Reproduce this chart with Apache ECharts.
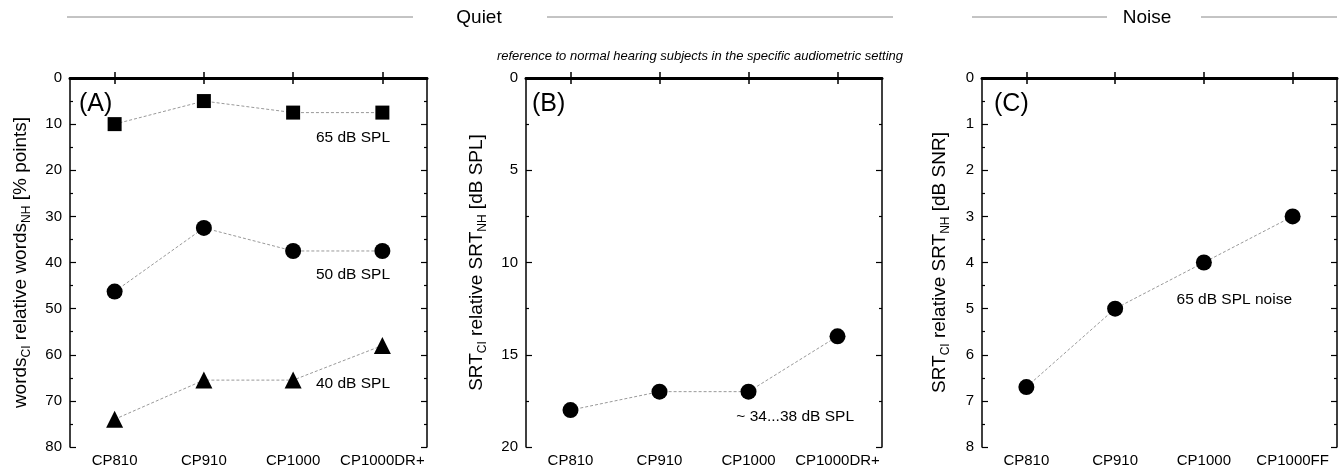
<!DOCTYPE html>
<html>
<head>
<meta charset="utf-8">
<script src="https://cdn.jsdelivr.net/npm/echarts@6/dist/echarts.min.js"></script>
<style>html,body{margin:0;padding:0;background:#fff}#c{width:1343px;height:470px}</style>
</head>
<body>
<div id="c"></div>
<script>
// ---- data ----
const catsAB = ['CP810', 'CP910', 'CP1000', 'CP1000DR+'];
const catsC = ['CP810', 'CP910', 'CP1000', 'CP1000FF'];
const words65 = [10, 5, 7.5, 7.5];
const words50 = [46.3, 32.5, 37.5, 37.5];
const words40 = [74, 65.5, 65.5, 58];
const srtQuiet = [18, 17, 17, 14];
const srtNoise = [6.7, 5, 4, 3];
const yTicksA = {min: 0, max: 80, interval: 10};
const yTicksB = {min: 0, max: 20, interval: 5};
const yTicksC = {min: 0, max: 8, interval: 1};

const FONT = 'Liberation Sans, Arial, sans-serif';
const chart = echarts.init(document.getElementById('c'), null, {renderer: 'canvas'});

const grids = [
  {left: 70, top: 78, width: 357, height: 369},
  {left: 526, top: 78, width: 356, height: 369},
  {left: 982, top: 78, width: 355, height: 369}
];

function xAxes(cats, gi) {
  return [
    {type: 'category', gridIndex: gi, data: cats, position: 'bottom', boundaryGap: true,
     axisLine: {lineStyle: {color: '#000', width: 1.5}},
     axisTick: {show: true, inside: true, alignWithLabel: true, length: 6, lineStyle: {color: '#000', width: 1.5}},
     axisLabel: {color: '#000', fontSize: 15, fontFamily: FONT, margin: 6, interval: 0}},
    {type: 'category', gridIndex: gi, data: cats, position: 'top', boundaryGap: true,
     axisLine: {lineStyle: {color: '#000', width: 3}},
     axisTick: {show: true, inside: true, alignWithLabel: true, length: 6, lineStyle: {color: '#000', width: 1.5}},
     axisLabel: {show: false}}
  ];
}

function yAxes(t, gi, nameRich, gap) {
  const common = {type: 'value', gridIndex: gi, inverse: true, min: t.min, max: t.max, interval: t.interval,
    splitLine: {show: false},
    axisLine: {show: true, lineStyle: {color: '#000', width: 1.5}},
    axisTick: {show: true, inside: true, length: 6, lineStyle: {color: '#000', width: 1.2}},
    minorTick: {show: true, splitNumber: 2, length: 3, lineStyle: {color: '#000', width: 1.2}}};
  return [
    Object.assign({}, common, {position: 'left',
      axisLabel: {color: '#000', fontSize: 15, fontFamily: FONT, margin: 8},
      name: nameRich, nameLocation: 'middle', nameRotate: 90, nameGap: gap,
      nameTextStyle: {color: '#000', fontFamily: FONT, fontSize: 19,
        rich: {
          n: {fontSize: 19, fontFamily: FONT, color: '#000', lineHeight: 23, verticalAlign: 'bottom'},
          s: {fontSize: 12, fontFamily: FONT, color: '#000', lineHeight: 12, verticalAlign: 'bottom', padding: [0, 0, -3, 0]}
        }}}),
    Object.assign({}, common, {position: 'right', axisLabel: {show: false}})
  ];
}

const lineStyle = {color: '#999', width: 1, type: [3, 2]};
function ser(data, gi, symbol, size) {
  return {type: 'line', xAxisIndex: gi * 2, yAxisIndex: gi * 2, data: data, symbol: symbol, symbolSize: size,
    itemStyle: {color: '#000'}, lineStyle: lineStyle, silent: true, animation: false, z: 3};
}

function txt(x, y, text, opts) {
  return Object.assign({type: 'text', x: x, y: y,
    style: Object.assign({text: text, fill: '#000', font: '15.5px ' + FONT, textAlign: 'left', textVerticalAlign: 'middle'}, opts || {})});
}
function hline(x1, x2, y) {
  return {type: 'line', shape: {x1: x1, y1: y, x2: x2, y2: y}, style: {stroke: '#888', lineWidth: 1}};
}

chart.setOption({
  animation: false,
  grid: grids,
  xAxis: [].concat(xAxes(catsAB, 0), xAxes(catsAB, 1), xAxes(catsC, 2)),
  yAxis: [].concat(
    yAxes(yTicksA, 0, '{n|words}{s|CI}{n| relative words}{s|NH}{n| [% points]}', 40),
    yAxes(yTicksB, 1, '{n|SRT}{s|CI}{n| relative SRT}{s|NH}{n| [dB SPL]}', 40),
    yAxes(yTicksC, 2, '{n|SRT}{s|CI}{n| relative SRT}{s|NH}{n| [dB SNR]}', 33)
  ),
  series: [
    ser(words65, 0, 'rect', 14),
    ser(words50, 0, 'circle', 16),
    ser(words40, 0, 'triangle', 17),
    ser(srtQuiet, 1, 'circle', 16),
    ser(srtNoise, 2, 'circle', 16)
  ],
  graphic: [
    hline(67, 413, 17), hline(547, 893, 17),
    txt(479, 18, 'Quiet', {font: '19px ' + FONT, textAlign: 'center'}),
    hline(972, 1107, 17), hline(1201, 1337, 17),
    txt(1147, 18, 'Noise', {font: '19px ' + FONT, textAlign: 'center'}),
    txt(700, 56, 'reference to normal hearing subjects in the specific audiometric setting', {font: 'italic 13px ' + FONT, textAlign: 'center'}),
    txt(79, 104, '(A)', {font: '25px ' + FONT}),
    txt(532, 104, '(B)', {font: '25px ' + FONT}),
    txt(994, 104, '(C)', {font: '25px ' + FONT}),
    txt(390, 138, '65 dB SPL', {textAlign: 'right'}),
    txt(390, 275, '50 dB SPL', {textAlign: 'right'}),
    txt(390, 384, '40 dB SPL', {textAlign: 'right'}),
    txt(854, 417, '~ 34...38 dB SPL', {textAlign: 'right'}),
    txt(1292, 300, '65 dB SPL noise', {textAlign: 'right'})
  ]
});
</script>
</body>
</html>
